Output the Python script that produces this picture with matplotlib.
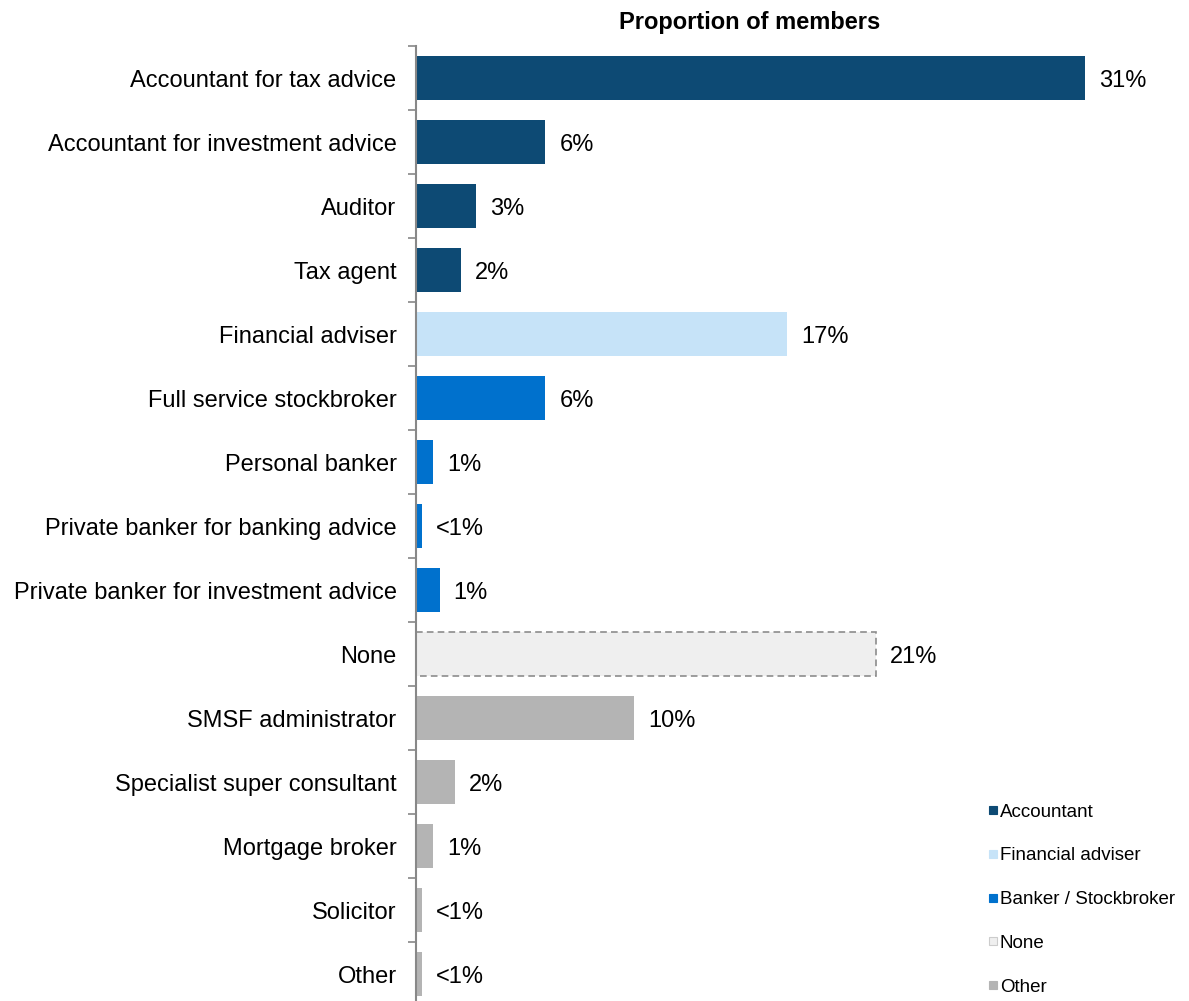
import matplotlib.pyplot as plt
from matplotlib.lines import Line2D

plt.rcParams['font.family'] = ['Liberation Sans', 'DejaVu Sans']

categories = [
    "Accountant for tax advice",
    "Accountant for investment advice",
    "Auditor",
    "Tax agent",
    "Financial adviser",
    "Full service stockbroker",
    "Personal banker",
    "Private banker for banking advice",
    "Private banker for investment advice",
    "None",
    "SMSF administrator",
    "Specialist super consultant",
    "Mortgage broker",
    "Solicitor",
    "Other",
]
values = [31, 6, 2.8, 2.1, 17.2, 6, 0.8, 0.3, 1.1, 21.3, 10.1, 1.8, 0.8, 0.3, 0.3]
groups = ["Accountant"] * 4 + ["Financial adviser"] + ["Banker / Stockbroker"] * 4 \
    + ["None"] + ["Other"] * 5

group_names = ["Accountant", "Financial adviser", "Banker / Stockbroker", "None", "Other"]
group_colors = {
    "Accountant": "#0d4a74",
    "Financial adviser": "#c6e3f8",
    "Banker / Stockbroker": "#0071cd",
    "None": "#efefef",
    "Other": "#b4b4b4",
}

fig = plt.figure(figsize=(11.89, 10.01), dpi=100)
ax = fig.add_axes([416 / 1189, -0.005, 773 / 1189, 0.959])

ypos = list(range(len(categories)))
for y, v, g in zip(ypos, values, groups):
    if g == "None":
        ax.barh(y, v, height=0.7, color=group_colors[g], edgecolor="#8c8c8c",
                linestyle=(0, (4, 2.5)), linewidth=1.2)
    else:
        ax.barh(y, v, height=0.7, color=group_colors[g], edgecolor="none")
    label = "<1%" if v < 0.5 else f"{round(v)}%"
    ax.annotate(label, (v, y), xytext=(10, 0), textcoords="offset points",
                va="center_baseline", ha="left", fontsize=17)

ax.set_xlim(0, 773 / 21.58)
ax.set_ylim(len(categories) - 0.5, -0.5)
ax.set_yticks(ypos)
ax.set_yticklabels(categories, fontsize=17)
ax.tick_params(axis="y", which="major", length=0, pad=14)
ax.set_yticks([i - 0.5 for i in range(len(categories) + 1)], minor=True)
ax.tick_params(axis="y", which="minor", length=6, width=1.2, color="#888888")
ax.set_xticks([])
for side in ["top", "right", "bottom"]:
    ax.spines[side].set_visible(False)
ax.spines["left"].set_color("#888888")
ax.spines["left"].set_linewidth(1.5)

fig.text(750 / 1189, 1 - 22 / 1001, "Proportion of members", ha="center", va="center",
         fontsize=17, fontweight="bold")

handles = []
for g in group_names:
    handles.append(Line2D([], [], marker="s", linestyle="none", markersize=6,
                          markerfacecolor=group_colors[g],
                          markeredgecolor="#cccccc" if g == "None" else group_colors[g],
                          markeredgewidth=0.8))
fig.legend(handles, group_names, loc="upper left", bbox_to_anchor=(980 / 1189, 1 - 796 / 1001),
           frameon=False, fontsize=13.5, labelspacing=1.42, handlelength=0.6,
           handletextpad=0.05, borderaxespad=0)

fig.savefig("out.png", dpi=100)
